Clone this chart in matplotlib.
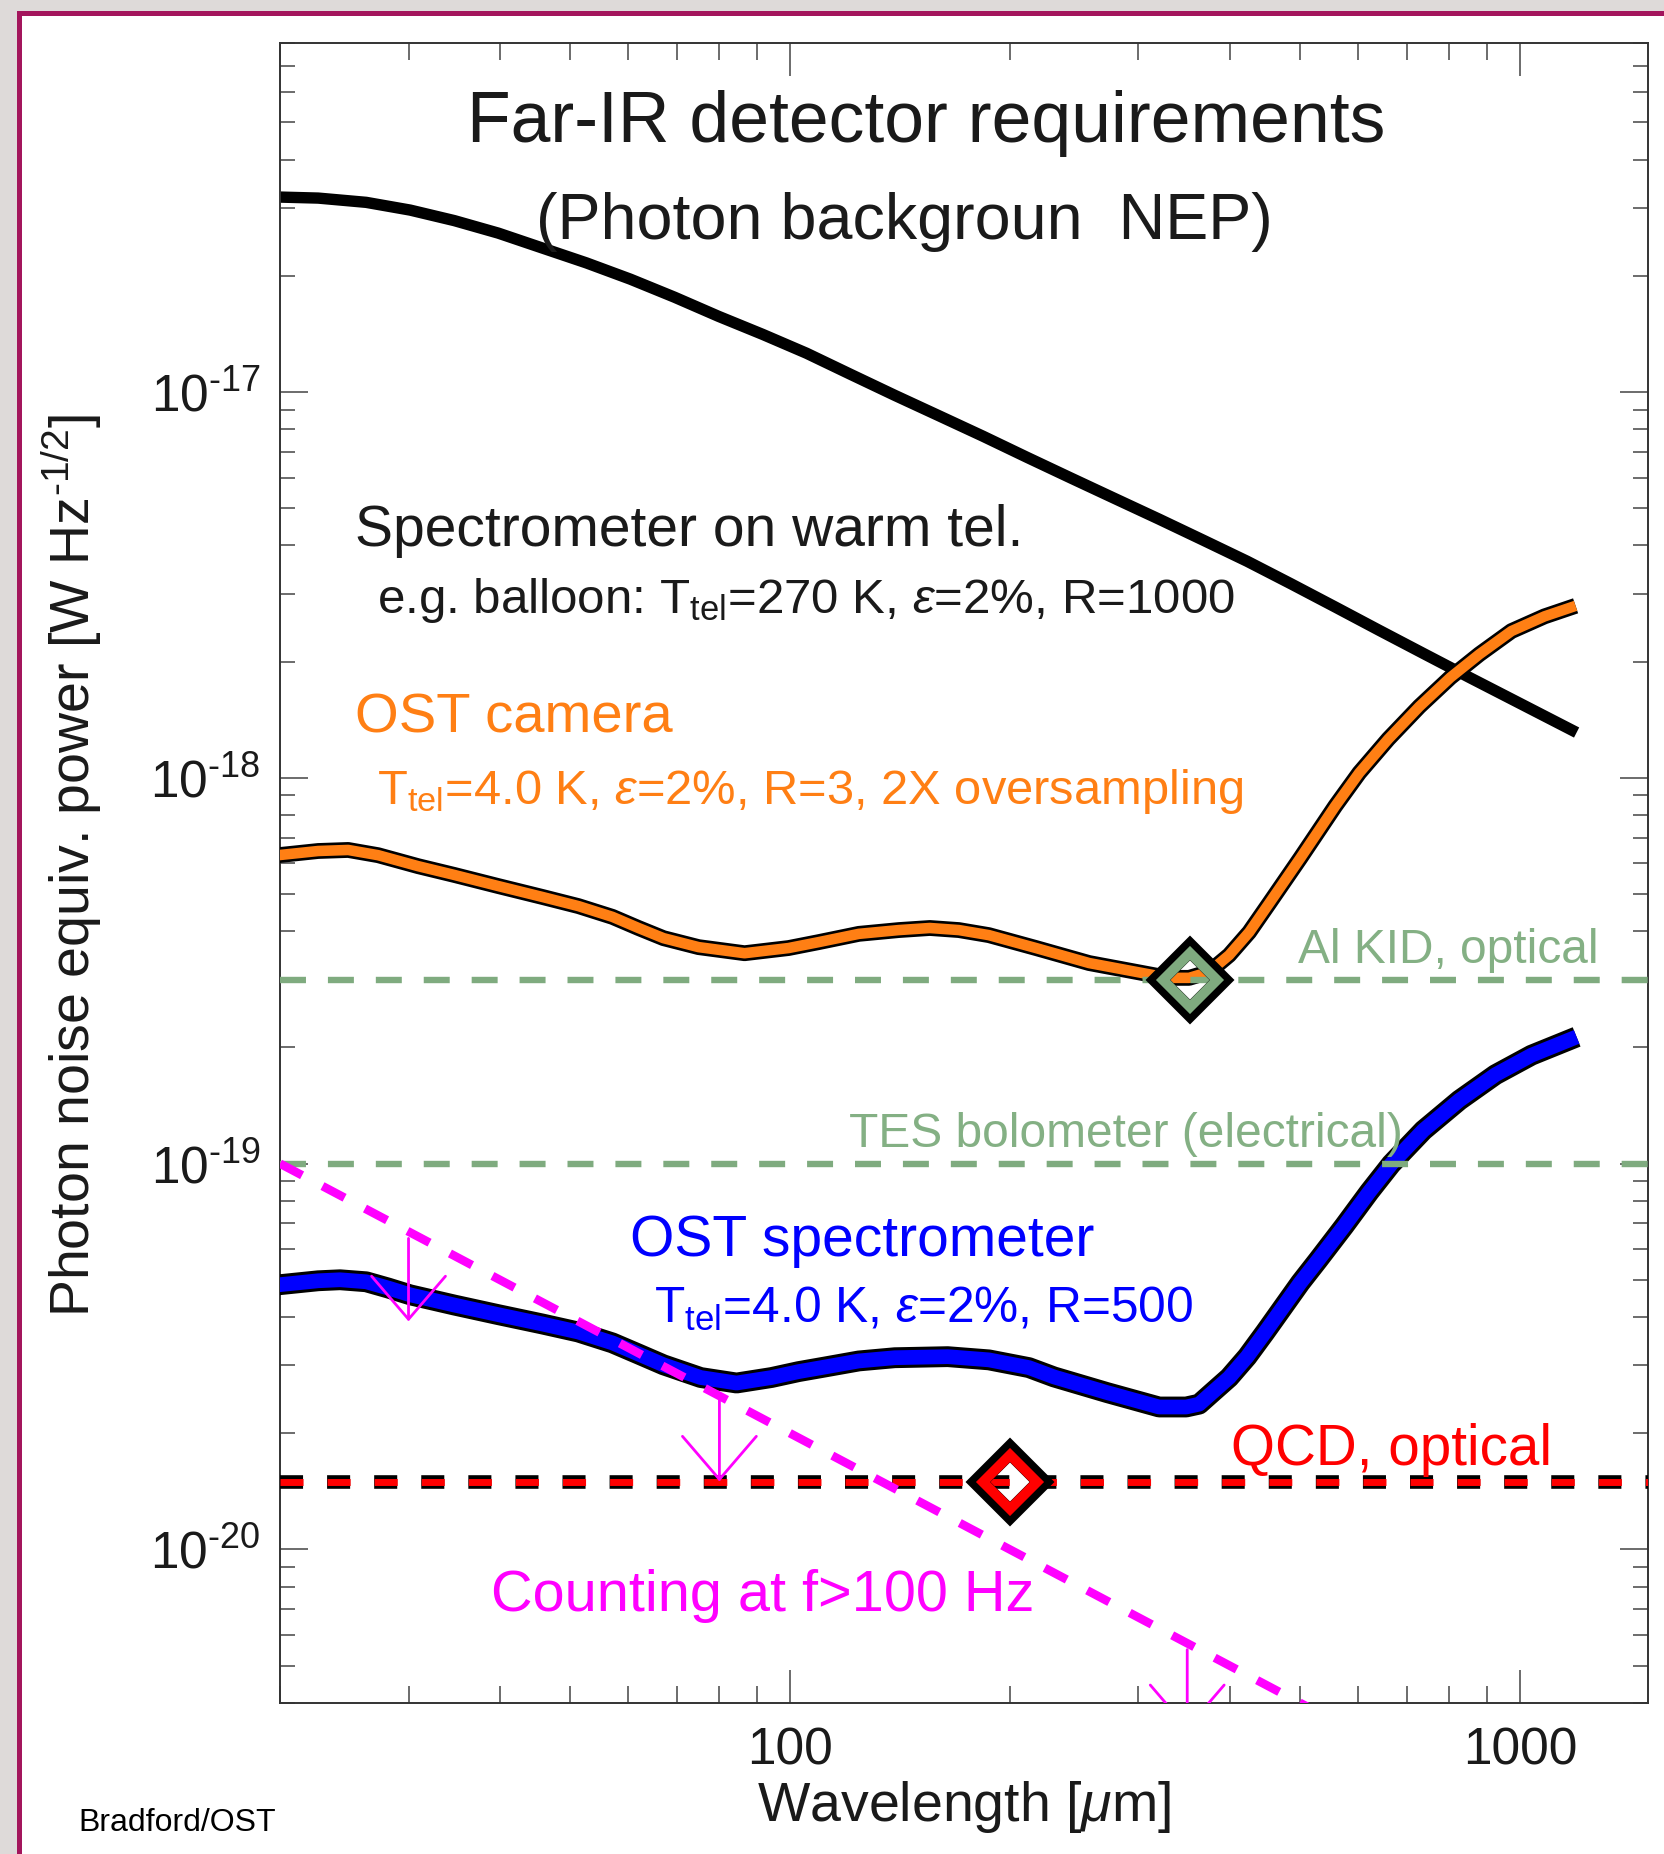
import numpy as np
import matplotlib
matplotlib.use("Agg")
import matplotlib.pyplot as plt
import matplotlib.patheffects as pe
from matplotlib.patches import Rectangle, FancyArrowPatch
from matplotlib.ticker import FixedLocator, FixedFormatter, LogLocator, NullFormatter

plt.rcParams["font.family"] = ["Liberation Sans", "DejaVu Sans"]
plt.rcParams["mathtext.fontset"] = "custom"
plt.rcParams["mathtext.rm"] = "Liberation Sans"
plt.rcParams["mathtext.it"] = "Liberation Sans:italic"
plt.rcParams["mathtext.bf"] = "Liberation Sans:bold"
plt.rcParams["lines.scale_dashes"] = False

# ---------------- data ----------------
# warm-telescope spectrometer (balloon) photon NEP
warm_wl = [19.88, 22.56, 26.25, 30.16, 34.66, 39.82, 45.77, 52.58, 60.41, 69.44, 79.79,
           91.69, 105.3, 121.1, 139.1, 159.8, 183.7, 211.1, 242.6, 278.7, 320.3, 368.0,
           422.9, 485.9, 558.4, 641.6, 737.3, 852.5, 973.4, 1195.6]
warm_nep = [3.20e-17, 3.18e-17, 3.10e-17, 2.96e-17, 2.78e-17, 2.58e-17, 2.36e-17, 2.16e-17,
            1.96e-17, 1.76e-17, 1.57e-17, 1.41e-17, 1.26e-17, 1.11e-17, 9.80e-18, 8.68e-18,
            7.68e-18, 6.77e-18, 5.98e-18, 5.29e-18, 4.68e-18, 4.13e-18, 3.64e-18, 3.18e-18,
            2.77e-18, 2.41e-18, 2.10e-18, 1.82e-18, 1.60e-18, 1.31e-18]

# OST camera photon NEP
camera_wl = [19.88, 22.56, 24.80, 27.26, 30.93, 34.66, 39.82, 45.77, 51.27, 57.09, 61.97,
             67.06, 74.91, 86.6, 99.5, 109.4, 124.2, 140.9, 155.4, 170.3, 187.2, 217.2,
             256.8, 303.5, 329.5, 352.1, 375.1, 399.5, 425.6, 453.4, 500.0, 558.4, 602.3,
             660.0, 728.0, 803.0, 879.8, 973.4, 1080.4, 1191.8]
camera_nep = [6.30e-19, 6.46e-19, 6.50e-19, 6.30e-19, 5.90e-19, 5.60e-19, 5.24e-19, 4.91e-19,
              4.65e-19, 4.36e-19, 4.08e-19, 3.84e-19, 3.64e-19, 3.51e-19, 3.62e-19, 3.75e-19,
              3.94e-19, 4.03e-19, 4.08e-19, 4.03e-19, 3.91e-19, 3.62e-19, 3.31e-19, 3.12e-19,
              3.03e-19, 3.03e-19, 3.14e-19, 3.47e-19, 3.98e-19, 4.73e-19, 6.19e-19, 8.45e-19,
              1.03e-18, 1.26e-18, 1.53e-18, 1.82e-18, 2.09e-18, 2.40e-18, 2.62e-18, 2.79e-18]

# OST spectrometer photon NEP
spec_wl = [19.88, 22.56, 24.17, 26.25, 28.13, 30.16, 34.66, 39.82, 45.77, 51.27, 57.09,
           61.97, 67.06, 75.4, 84.45, 94.3, 102.7, 111.5, 124.2, 139.1, 164.4, 187.2, 212.4,
           229.9, 271.8, 320.3, 348.8, 363.4, 378.6, 399.5, 422.9, 447.7, 473.6, 500.0,
           529.1, 574.5, 621.7, 666.3, 737.3, 826.0, 925.5, 1037.0, 1195.6]
spec_nep = [4.85e-20, 4.97e-20, 5.00e-20, 4.94e-20, 4.76e-20, 4.57e-20, 4.30e-20, 4.06e-20,
            3.84e-20, 3.66e-20, 3.43e-20, 3.21e-20, 3.01e-20, 2.79e-20, 2.70e-20, 2.79e-20,
            2.89e-20, 2.97e-20, 3.08e-20, 3.14e-20, 3.16e-20, 3.10e-20, 2.96e-20, 2.80e-20,
            2.55e-20, 2.34e-20, 2.34e-20, 2.38e-20, 2.55e-20, 2.79e-20, 3.16e-20, 3.66e-20,
            4.25e-20, 4.91e-20, 5.63e-20, 6.90e-20, 8.45e-20, 9.98e-20, 1.22e-19, 1.46e-19,
            1.70e-19, 1.91e-19, 2.13e-19]

# photon-counting limit at f > 100 Hz
counting_wl = [20, 1500]
counting_nep = [1.0e-19, 1.333e-21]

# detector sensitivity levels
al_kid_nep = 3.0e-19
tes_nep = 1.0e-19
qcd_nep = 1.5e-20
al_kid_mark_wl = [353]
al_kid_mark_nep = [3.0e-19]
qcd_mark_wl = [200]
qcd_mark_nep = [1.5e-20]

# upper-limit arrows on the counting line
arrow_wl = [30, 80, 350]
arrow_top = [6.4e-20, 2.5e-20, 5.5e-21]
arrow_tip = [3.9e-20, 1.5e-20, 3.4e-21]

x_range = [20, 1500]
y_range = [4e-21, 8e-17]
x_ticks = [100, 1000]
x_ticklabels = ["100", "1000"]
y_ticks = [1e-20, 1e-19, 1e-18, 1e-17]
y_ticklabels = ["$\\mathregular{10^{\u201020}}$", "$\\mathregular{10^{\u201019}}$",
                "$\\mathregular{10^{\u201018}}$", "$\\mathregular{10^{\u201017}}$"]

# ---------------- colours ----------------
C_ORANGE = "#ff7f14"
C_BLUE = "#0000ff"
C_GREEN = "#7fab7f"
C_GREEN_TXT = "#84b084"
C_RED = "#ff0000"
C_MAGENTA = "#ff00ff"
C_DARK = "#1a1a1a"

fig = plt.figure(figsize=(16.65, 18.54), dpi=100)
fig.patch.set_facecolor("#dedad9")
frame = Rectangle((0.01171, -0.05), 1.2, 0.99272 + 0.05, transform=fig.transFigure,
                  facecolor="white", edgecolor="#a3155c", linewidth=3.6, zorder=-10)
fig.add_artist(frame)

ax = fig.add_axes([0.16817, 0.08145, 0.82192, 0.89509])
ax.set_facecolor("white")
ax.set_xscale("log")
ax.set_yscale("log")
ax.set_xlim(x_range)
ax.set_ylim(y_range)

# curves
ax.plot(warm_wl, warm_nep, color="black", lw=8.2, solid_joinstyle="round",
        solid_capstyle="butt", zorder=2)
ax.plot(camera_wl, camera_nep, color=C_ORANGE, lw=7.6, solid_joinstyle="round",
        solid_capstyle="butt", zorder=3,
        path_effects=[pe.Stroke(linewidth=11.4, foreground="black"), pe.Normal()])
ax.plot(spec_wl, spec_nep, color=C_BLUE, lw=10.6, solid_joinstyle="round",
        solid_capstyle="butt", zorder=3,
        path_effects=[pe.Stroke(linewidth=15.0, foreground="black"), pe.Normal()])

# sensitivity levels
ax.axhline(al_kid_nep, color=C_GREEN, lw=4.6, dashes=(18.7, 15.8), zorder=4)
ax.axhline(tes_nep, color=C_GREEN, lw=4.6, dashes=(18.7, 15.8), zorder=4)
ax.axhline(qcd_nep, color="black", lw=9.8, dashes=(16.6, 17.3), zorder=4)
ax.axhline(qcd_nep, color=C_RED, lw=5.0, dashes=(16.6, 17.3), zorder=4.1)

# photon counting limit and its arrows
ax.plot(counting_wl, counting_nep, color=C_MAGENTA, lw=6.2, dashes=(18, 16.6), zorder=5)
for wl, top, tip in zip(arrow_wl, arrow_top, arrow_tip):
    arr = FancyArrowPatch(posA=(wl, top), posB=(wl, tip),
                          arrowstyle="->,head_length=1.55,head_width=1.33",
                          mutation_scale=20, lw=2.0, color=C_MAGENTA,
                          shrinkA=0, shrinkB=0, zorder=5)
    ax.add_patch(arr)

# detector markers
for mwl, mnep, col in [(al_kid_mark_wl, al_kid_mark_nep, C_GREEN),
                       (qcd_mark_wl, qcd_mark_nep, C_RED)]:
    ax.plot(mwl, mnep, linestyle="none", marker="D", ms=32.6, mfc="none",
            mec="black", mew=12.7, zorder=6)
    ax.plot(mwl, mnep, linestyle="none", marker="D", ms=27, mfc="none",
            mec=col, mew=7.2, zorder=6.1)

# axes styling
for sp in ax.spines.values():
    sp.set_linewidth(1.4)
    sp.set_color("#333333")

ax.xaxis.set_major_locator(FixedLocator(x_ticks))
ax.xaxis.set_major_formatter(FixedFormatter(x_ticklabels))
ax.xaxis.set_minor_locator(LogLocator(base=10, subs=np.arange(2, 10), numticks=50))
ax.xaxis.set_minor_formatter(NullFormatter())
ax.yaxis.set_major_locator(FixedLocator(y_ticks))
ax.yaxis.set_major_formatter(FixedFormatter(y_ticklabels))
ax.yaxis.set_minor_locator(LogLocator(base=10, subs=np.arange(2, 10), numticks=50))
ax.yaxis.set_minor_formatter(NullFormatter())

ax.tick_params(axis="x", which="major", direction="in", length=23.8, width=1.1,
               color="#444444", top=True, bottom=True, labelsize=37, pad=17,
               labelcolor=C_DARK)
ax.tick_params(axis="x", which="minor", direction="in", length=12, width=1.1,
               color="#444444", top=True, bottom=True)
ax.tick_params(axis="y", which="major", direction="in", length=20, width=1.1,
               color="#444444", left=True, right=True, labelsize=37, pad=14,
               labelcolor=C_DARK)
ax.tick_params(axis="y", which="minor", direction="in", length=11, width=1.1,
               color="#444444", left=True, right=True)

ax.set_xlabel(r"Wavelength [$\mu$m]", fontsize=40, color=C_DARK, va="baseline")
ax.xaxis.set_label_coords(0.5, -0.0711)
ax.set_ylabel("Photon noise equiv. power [W Hz$^{\u20101/2}$]", fontsize=40,
              color=C_DARK, va="center")
ax.yaxis.set_label_coords(-0.152, 0.5044)

# annotations
tkw = dict(transform=ax.transAxes, va="baseline", zorder=8)
ax.text(0.4724, 0.9407, "Far-IR detector requirements", fontsize=51.5, ha="center",
        color=C_DARK, **tkw)
ax.text(0.4564, 0.8822, "(Photon backgroun  NEP)", fontsize=46.5, ha="center",
        color=C_DARK, **tkw)
ax.text(0.0548, 0.6972, "Spectrometer on warm tel.", fontsize=41, ha="left",
        color=C_DARK, **tkw)
ax.text(0.0707, 0.6571,
        r"e.g. balloon: T$_{\mathrm{tel}}$=270 K, $\varepsilon$=2%, R=1000",
        fontsize=35.5, ha="left", color=C_DARK, **tkw)
ax.text(0.0548, 0.5846, "OST camera", fontsize=40.5, ha="left", color=C_ORANGE, **tkw)
ax.text(0.0707, 0.5417,
        r"T$_{\mathrm{tel}}$=4.0 K, $\varepsilon$=2%, R=3, 2X oversampling",
        fontsize=35.2, ha="left", color=C_ORANGE, **tkw)
ax.text(0.9638, 0.4457, "Al KID, optical", fontsize=34.5, ha="right",
        color=C_GREEN_TXT, **tkw)
ax.text(0.4158, 0.3352, "TES bolometer (electrical)", fontsize=34.5, ha="left",
        color=C_GREEN_TXT, **tkw)
ax.text(0.2560, 0.2695, "OST spectrometer", fontsize=41, ha="left", color=C_BLUE, **tkw)
ax.text(0.2733, 0.2288, r"T$_{\mathrm{tel}}$=4.0 K, $\varepsilon$=2%, R=500",
        fontsize=35.7, ha="left", color=C_BLUE, **tkw)
ax.text(0.6950, 0.1434, "QCD, optical", fontsize=40.8, ha="left", color=C_RED, **tkw)
ax.text(0.1542, 0.0557, "Counting at f>100 Hz", fontsize=41.5, ha="left",
        color=C_MAGENTA, **tkw)

fig.text(0.0468, 0.0124, "Bradford/OST", fontsize=23, ha="left", va="baseline",
         color="black")

fig.savefig("out.png", dpi=100, facecolor=fig.get_facecolor())
